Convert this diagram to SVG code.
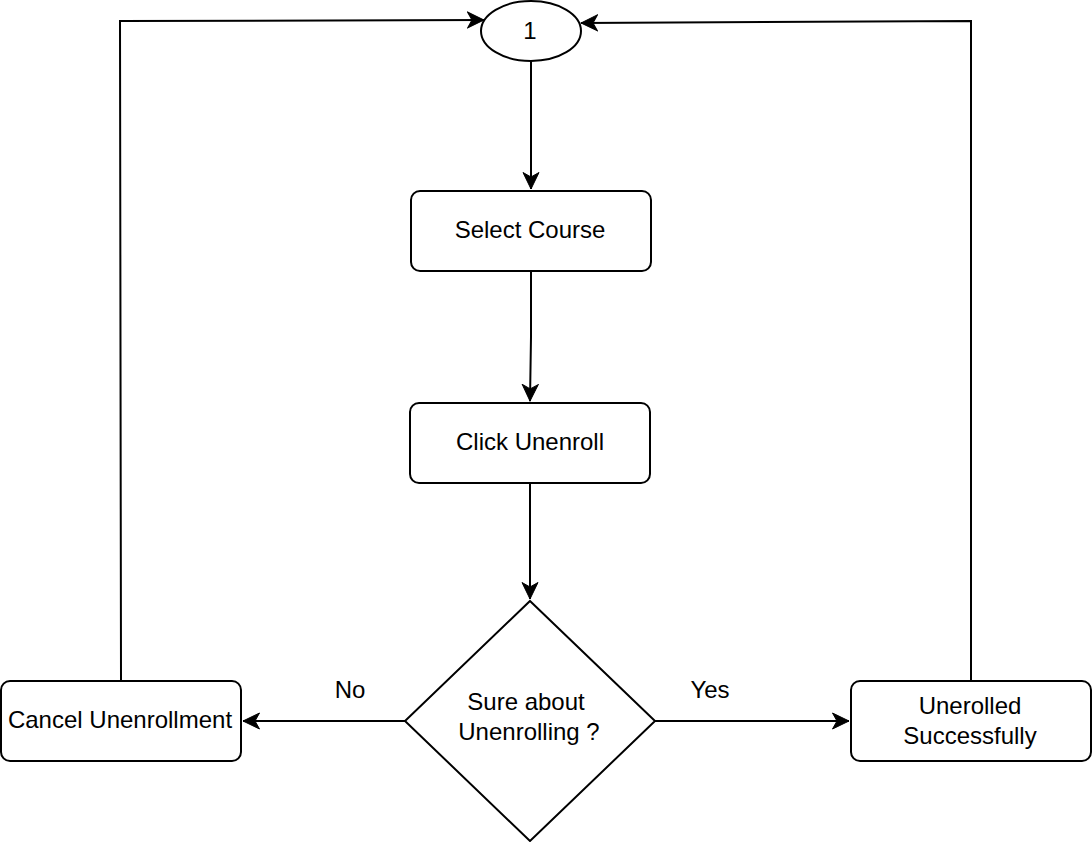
<svg xmlns="http://www.w3.org/2000/svg" width="1092" height="842" viewBox="0 0 1092 842">
<defs>
<style>
.s{fill:#fff;stroke:#000;stroke-width:2}
.c{fill:none;stroke:#000;stroke-width:2}
text{font-family:"Liberation Sans",Arial,sans-serif;font-size:24px;fill:#000;text-anchor:middle}
</style>
<marker id="a" markerUnits="userSpaceOnUse" markerWidth="18" markerHeight="18" refX="17" refY="9" orient="auto" viewBox="0 0 18 18">
<path d="M0.5,1 L17,9 L0.5,17 L5,9 Z" fill="#000" stroke="#000" stroke-width="1"/>
</marker>
</defs>
<rect width="1092" height="842" fill="#fff"/>
<g id="connectors">
<path class="c" d="M531,61 L531,189" marker-end="url(#a)"/>
<path class="c" d="M531,271 L531,337 L530,401" marker-end="url(#a)"/>
<path class="c" d="M530,483 L530,599" marker-end="url(#a)"/>
<path class="c" d="M405,721 L243,721" marker-end="url(#a)"/>
<path class="c" d="M655,721 L849,721" marker-end="url(#a)"/>
<path class="c" d="M121,681 L120,21 L484,20" marker-end="url(#a)"/>
<path class="c" d="M971,681 L971,21 L581,23" marker-end="url(#a)"/>
<text x="350" y="698">No</text>
<text x="710" y="698">Yes</text>
</g>
<g id="start">
<ellipse class="s" cx="531" cy="31" rx="50" ry="30"/>
<text x="530" y="39">1</text>
</g>
<g id="select-course">
<rect class="s" x="411" y="191" width="240" height="80" rx="9"/>
<text x="530" y="238">Select Course</text>
</g>
<g id="click-unenroll">
<rect class="s" x="410" y="403" width="240" height="80" rx="9"/>
<text x="530" y="450">Click Unenroll</text>
</g>
<g id="decision">
<path class="s" d="M530,601 L655,721 L530,841 L405,721 Z"/>
<text x="526" y="710">Sure about</text>
<text x="529" y="740">Unenrolling ?</text>
</g>
<g id="cancel">
<rect class="s" x="1" y="681" width="240" height="80" rx="9"/>
<text x="120" y="728">Cancel Unenrollment</text>
</g>
<g id="success">
<rect class="s" x="851" y="681" width="240" height="80" rx="9"/>
<text x="970" y="714">Unerolled</text>
<text x="970" y="744">Successfully</text>
</g>
</svg>
